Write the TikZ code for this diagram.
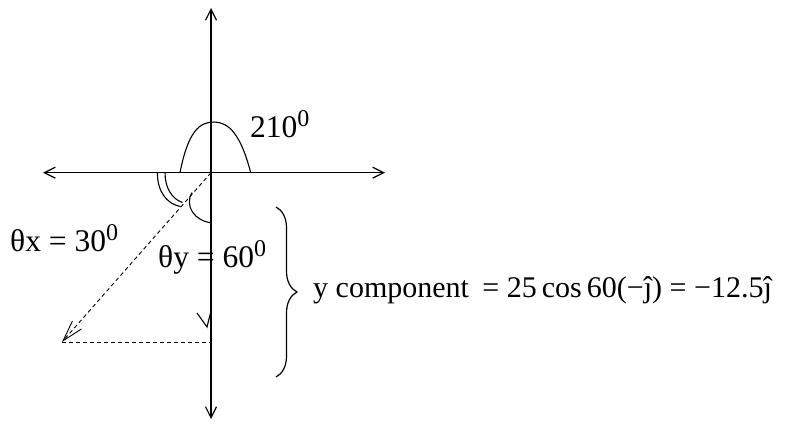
\documentclass[tikz,border=0pt]{standalone}
\usepackage{fontspec}
\setmainfont{Liberation Serif}
\usetikzlibrary{arrows.meta,decorations.pathreplacing}
\newcommand{\supz}{\raisebox{11pt}{\fontsize{24}{24}\selectfont 0}}
\begin{document}
\begin{tikzpicture}[x=1pt,y=-1pt,
  tipax/.tip={Straight Barb[length=11pt,width=11pt]},
  axisline/.style={line width=1.2pt,tipax-tipax},
  arcline/.style={line width=1.1pt},
  dashline/.style={line width=0.9pt,dash pattern=on 4pt off 3pt},
  lbl/.style={anchor=base west,inner sep=0pt,font=\fontsize{31.5}{36}\selectfont},
  eqlbl/.style={anchor=base west,inner sep=0pt,font=\fontsize{30}{36}\selectfont}]
\useasboundingbox (0,0) rectangle (792,423);
\coordinate (O) at (211,172.7);
\coordinate (T) at (211,8);
\coordinate (B) at (211,419);
\coordinate (L) at (43,172.7);
\coordinate (R) at (385,172.7);
\coordinate (P) at (62,342);
\coordinate (Q) at (211,342);
\coordinate (V1) at (197,313);
\coordinate (V2) at (207,327);
\coordinate (V3) at (211,311);
\coordinate (Bt) at (276,207);
\coordinate (Bb) at (276,377);
% axes
\draw[axisline] (L) -- (R);
\draw[axisline] (B) -- (T);
% vector and component
\draw[dashline,-{Straight Barb[length=21pt,width=12pt]}] (O) -- (P);
\draw[dashline] (P) -- (Q);
\draw[arcline] (V1) -- (V2) -- (V3);
% 210 arc
\draw[arcline] (180,172.7) .. controls (188,132) and (199,122) .. (214,122)
  .. controls (229,122) and (241,135) .. (250.7,172.7);
% theta x double arc
\draw[arcline] (157.5,172.7) .. controls (157,190) and (166,204) .. (180.5,206.5);
\draw[arcline] (165,172.7) .. controls (165,188) and (172,199) .. (182.5,202.5);
% theta y arc
\draw[arcline] (192,192.5) .. controls (184,206) and (195,221) .. (211,222.7);
% brace
\draw[line width=1.2pt,decorate,decoration={brace,amplitude=21pt}] (Bt) -- (Bb);
% labels
\node[lbl] (t210) at (250,137) {210\supz};
\node[lbl] (tx) at (10,251.7) {θx = 30\supz};
\node[lbl] (ty) at (158,267.3) {θy = 60\supz};
\node[eqlbl] (eq) at (313,297) {y component\hspace{0.2em} = 25\,cos\,60(−ĵ) = −12.5ĵ};
\end{tikzpicture}
\end{document}
